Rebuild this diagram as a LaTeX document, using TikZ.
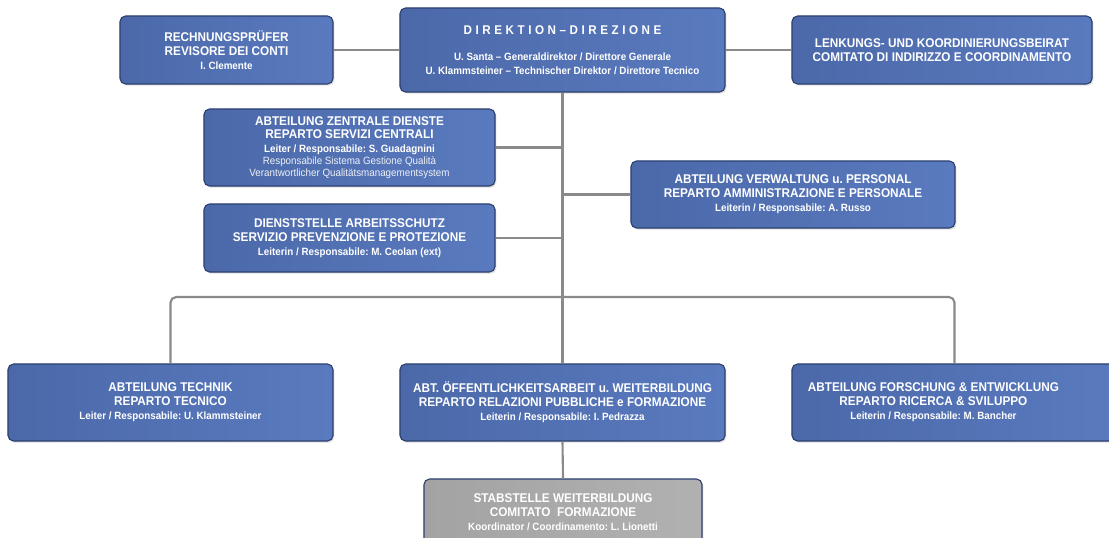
\documentclass[tikz,border=0pt]{standalone}
\usepackage{fontspec}
\setmainfont{Liberation Sans}[FakeStretch=0.93]
\newfontfamily\spacedfont{Liberation Sans}[FakeStretch=0.92,LetterSpace=28]
\usetikzlibrary{shadows}
\frenchspacing
\definecolor{boxblue}{HTML}{4B69A9}
\definecolor{boxblueL}{HTML}{5A7ABF}
\definecolor{boxline}{HTML}{2C4170}
\definecolor{stabgray}{HTML}{A3A3A3}
\definecolor{linkgray}{HTML}{8A8A8A}
\newcommand\boxhead{\fontsize{9}{10}\selectfont\bfseries}
\newcommand\boxsub{\fontsize{7.5}{8.5}\selectfont\bfseries}
\newcommand\boxnote{\fontsize{7.5}{8.5}\selectfont\color{white!90!boxblue}}
\begin{document}
\begin{tikzpicture}[x=0.025cm,y=-0.025cm,
    unit/.style={rectangle,rounded corners=4pt,draw=boxline,line width=0.8pt,
      left color=boxblue,right color=boxblueL,text=white,align=center,inner sep=0pt,
      font=\fontsize{9}{10}\selectfont,
      drop shadow={opacity=0.25,shadow xshift=1pt,shadow yshift=-1.2pt}},
    staff/.style={unit,left color=stabgray,right color=stabgray!85!white},
    link/.style={draw=linkgray,line width=1.5pt}]
  \useasboundingbox[fill=white](0,0)rectangle(1109,538);
  \node[unit,minimum width=8.125cm,minimum height=2.1cm](dir)at(562.5,50){%
    {\spacedfont\boxhead DIREKTION–DIREZIONE}\\[9pt]
    \boxsub U. Santa – Generaldirektor / Direttore Generale\\[-0.5pt]
    \boxsub U. Klammsteiner – Technischer Direktor / Direttore Tecnico};
  \node[unit,minimum width=5.325cm,minimum height=1.7cm](rev)at(226.5,50){%
    \boxhead RECHNUNGSPRÜFER\\\boxhead REVISORE DEI CONTI\\\boxsub I. Clemente};
  \node[unit,minimum width=7.5cm,minimum height=1.7cm](beirat)at(942,50){%
    \boxhead LENKUNGS- UND KOORDINIERUNGSBEIRAT\\\boxhead COMITATO DI INDIRIZZO E COORDINAMENTO};
  \node[unit,minimum width=7.275cm,minimum height=1.925cm](zd)at(349.5,147.5){%
    \boxhead ABTEILUNG ZENTRALE DIENSTE\\[-0.5pt]\boxhead REPARTO SERVIZI CENTRALI\\[-0.5pt]
    \boxsub Leiter / Responsabile: S. Guadagnini\\[-1.5pt]
    \boxnote Responsabile Sistema Gestione Qualità\\[-1.5pt]
    \boxnote Verantwortlicher Qualitätsmanagementsystem};
  \node[unit,minimum width=7.275cm,minimum height=1.7cm](as)at(349.5,238){%
    \boxhead DIENSTSTELLE ARBEITSSCHUTZ\\\boxhead SERVIZIO PREVENZIONE E PROTEZIONE\\
    \boxsub Leiterin / Responsabile: M. Ceolan (ext)};
  \node[unit,minimum width=8.1cm,minimum height=1.675cm](vp)at(793,194.5){%
    \boxhead ABTEILUNG VERWALTUNG u. PERSONAL\\\boxhead REPARTO AMMINISTRAZIONE E PERSONALE\\
    \boxsub Leiterin / Responsabile: A. Russo};
  \node[unit,minimum width=8.125cm,minimum height=1.925cm](tech)at(170.5,402.5){%
    \boxhead ABTEILUNG TECHNIK\\\boxhead REPARTO TECNICO\\
    \boxsub Leiter / Responsabile: U. Klammsteiner};
  \node[unit,minimum width=8.125cm,minimum height=1.925cm](oea)at(562.5,402.5){%
    \boxhead ABT. ÖFFENTLICHKEITSARBEIT u. WEITERBILDUNG\\\boxhead REPARTO RELAZIONI PUBBLICHE e FORMAZIONE\\
    \boxsub Leiterin / Responsabile: I. Pedrazza};
  \node[unit,minimum width=8.125cm,minimum height=1.925cm](fe)at(954.5,402.5){%
    \begin{tabular}{@{}c@{}}\boxhead ABTEILUNG FORSCHUNG \& ENTWICKLUNG\\
    \boxhead REPARTO RICERCA \& SVILUPPO\\
    \boxsub Leiterin / Responsabile: M. Bancher\end{tabular}\hspace*{30pt}};
  \node[staff,minimum width=6.95cm,minimum height=1.65cm](stab)at(563,512){%
    \boxhead STABSTELLE WEITERBILDUNG\\\boxhead COMITATO\ \ FORMAZIONE\\
    \boxsub Koordinator / Coordinamento: L. Lionetti};
  \coordinate(bus)at(563,297);
  \draw[link](rev.east)--(dir.west);
  \draw[link](dir.east)--(beirat.west);
  \draw[link](dir.south)--(oea.north);
  \draw[link](zd.east)--(zd.east-|dir.south);
  \draw[link](as.east)--(as.east-|dir.south);
  \draw[link](vp.west)--(vp.west-|dir.south);
  \draw[link,rounded corners=4pt](tech.north)|-(bus)-|(fe.north);
  \draw[link](oea.south)--(stab.north);
\end{tikzpicture}
\end{document}
